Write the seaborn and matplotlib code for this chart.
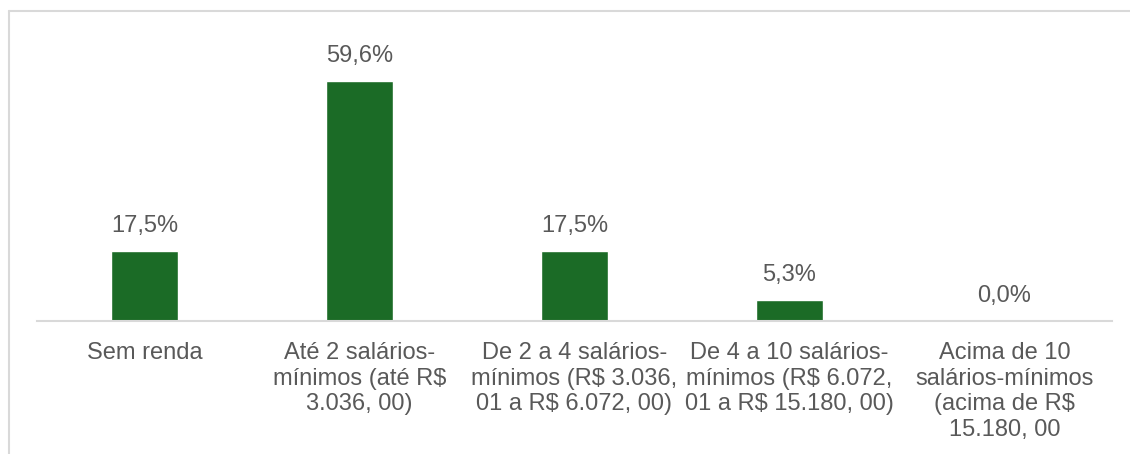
import matplotlib
matplotlib.use("Agg")
import matplotlib.pyplot as plt
from matplotlib.lines import Line2D
import seaborn as sns
import pandas as pd

# dados do gráfico
categorias = [
    "Sem renda",
    "Até 2 salários-\nmínimos (até R\\$\n3.036, 00)",
    "De 2 a 4 salários-\nmínimos (R\\$ 3.036,\n01 a R\\$ 6.072, 00)",
    "De 4 a 10 salários-\nmínimos (R\\$ 6.072,\n01 a R\\$ 15.180, 00)",
    "Acima de 10\nsalários-mínimos\n(acima de R\\$\n15.180, 00",
]
percentuais = [17.5, 59.6, 17.5, 5.3, 0.0]
rotulos = ["17,5%", "59,6%", "17,5%", "5,3%", "0,0%"]

VERDE = "#1B6B26"
CINZA_TXT = "#595959"
CINZA_LINHA = "#D9D9D9"

sns.set_style("white")
plt.rcParams["font.family"] = ["Liberation Sans", "DejaVu Sans"]

df = pd.DataFrame({"categoria": categorias, "valor": percentuais})

fig = plt.figure(figsize=(11.3, 4.54), dpi=100)
W, H = 1130, 454

# moldura da área do gráfico (só borda esquerda e superior visíveis)
x0, y0 = 8.5 / W, 1 - 10.5 / H
fig.lines.append(Line2D([x0, x0], [0, y0], transform=fig.transFigure,
                        color=CINZA_LINHA, linewidth=1.5))
fig.lines.append(Line2D([x0, 1], [y0, y0], transform=fig.transFigure,
                        color=CINZA_LINHA, linewidth=1.5))

ax = fig.add_axes([37 / W, 1 - 321 / H, (1112 - 37) / W, (321 - 39) / H])
sns.barplot(data=df, x="categoria", y="valor", color=VERDE, width=0.31,
            saturation=1, ax=ax)

ax.set_ylim(0, 70)
ax.set_xlim(-0.5, len(categorias) - 0.5)
ax.set_xlabel("")
ax.set_ylabel("")
ax.set_yticks([])
for s in ["top", "right", "left"]:
    ax.spines[s].set_visible(False)
ax.spines["bottom"].set_color(CINZA_LINHA)
ax.spines["bottom"].set_linewidth(1.5)
ax.tick_params(axis="x", length=0, pad=15, labelsize=17, labelcolor=CINZA_TXT)
for t in ax.get_xticklabels():
    t.set_linespacing(1.22)
    t.set_verticalalignment("top")

for i, (v, r) in enumerate(zip(percentuais, rotulos)):
    ax.annotate(r, (i, v), xytext=(0, 10), textcoords="offset points",
                ha="center", va="bottom", fontsize=17, color=CINZA_TXT)

fig.savefig("out.png", dpi=100)
